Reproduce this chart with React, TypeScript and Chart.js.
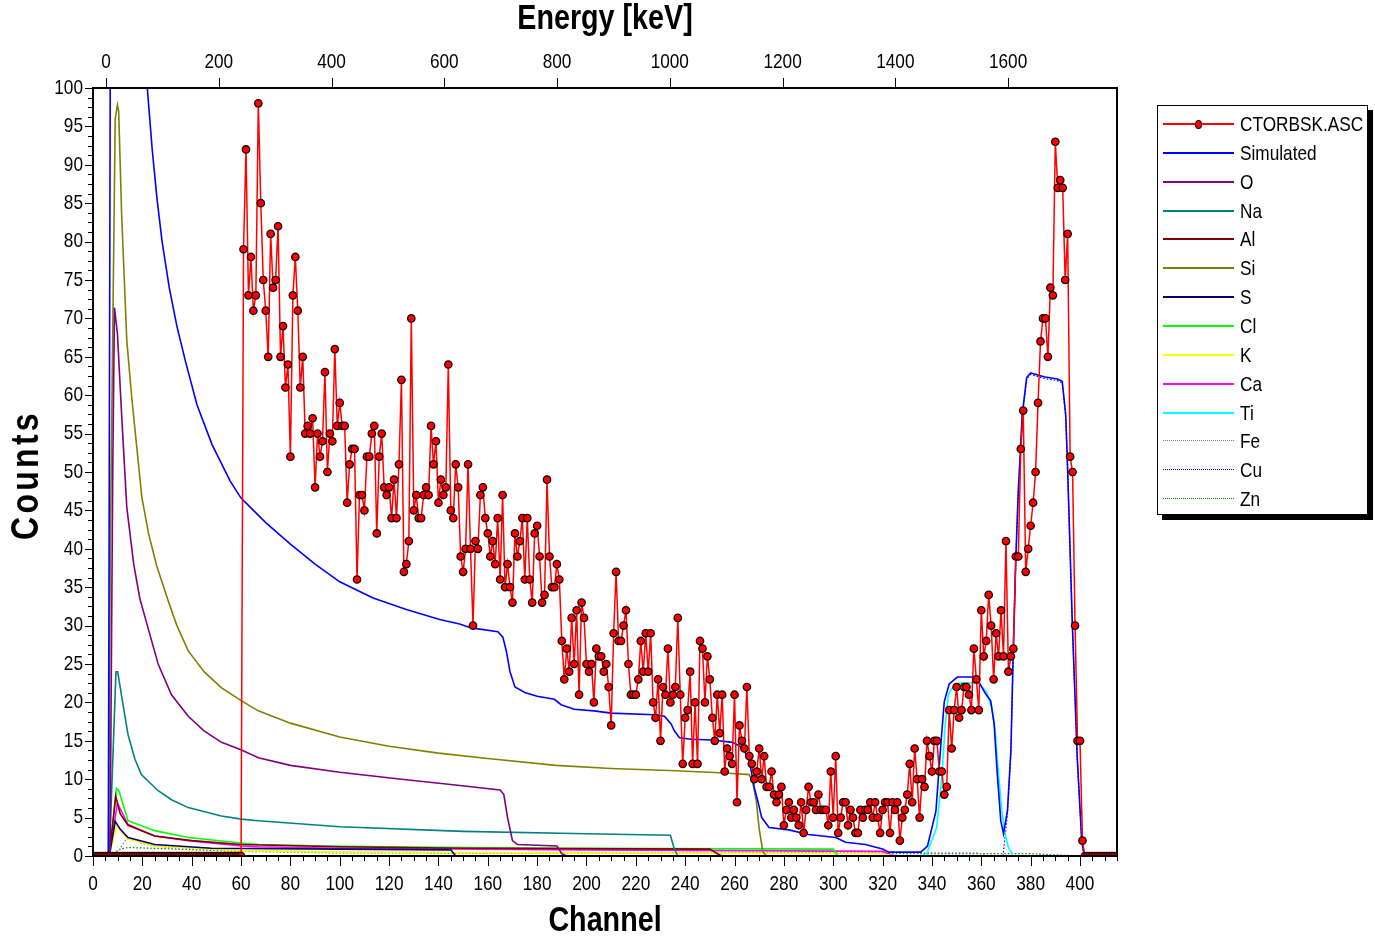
import React, { useEffect, useRef } from "react";
import { Chart, registerables } from "chart.js";

Chart.register(...registerables);

const BASE_FONT = "'Liberation Sans', Arial, sans-serif";
const NARROW_X = 0.82; // horizontal squeeze to imitate a narrow face

// ---------- axis ticks ----------
const channelTicks = [0, 20, 40, 60, 80, 100, 120, 140, 160, 180, 200, 220, 240, 260, 280, 300, 320, 340, 360, 380, 400];
const energyTicks = [0, 200, 400, 600, 800, 1000, 1200, 1400, 1600];
const countTicks = [0, 5, 10, 15, 20, 25, 30, 35, 40, 45, 50, 55, 60, 65, 70, 75, 80, 85, 90, 95, 100];
const channelRange = [0, 415];
const energyRange = [-23.06, 1793.2];
const countRange = [0, 100];

// ---------- measured spectrum CTORBSK.ASC (one value per channel, from channel 0) ----------
const ctorCounts = [
  0, 0, 0, 0, 0, 0, 0, 0, 0, 0,
  0, 0, 0, 0, 0, 0, 0, 0, 0, 0,
  0, 0, 0, 0, 0, 0, 0, 0, 0, 0,
  0, 0, 0, 0, 0, 0, 0, 0, 0, 0,
  0, 0, 0, 0, 0, 0, 0, 0, 0, 0,
  0, 0, 0, 0, 0, 0, 0, 0, 0, 0,
  0, 79, 92, 73, 78, 71, 73, 98, 85, 75,
  71, 65, 81, 74, 75, 82, 65, 69, 61, 64,
  52, 73, 78, 71, 61, 65, 55, 56, 55, 57,
  48, 55, 52, 54, 63, 50, 55, 54, 66, 56,
  59, 56, 56, 46, 51, 53, 53, 36, 47, 47,
  45, 52, 52, 55, 56, 42, 52, 55, 48, 47,
  48, 44, 49, 44, 51, 62, 37, 38, 41, 70,
  45, 47, 44, 44, 47, 48, 47, 56, 51, 54,
  46, 49, 47, 48, 64, 45, 44, 51, 48, 39,
  37, 40, 51, 40, 30, 41, 40, 47, 48, 44,
  42, 39, 41, 38, 44, 36, 47, 35, 38, 35,
  33, 42, 39, 41, 44, 36, 44, 36, 33, 42,
  43, 39, 33, 34, 49, 39, 35, 35, 38, 36,
  28, 23, 27, 24, 31, 25, 32, 21, 33, 31,
  25, 24, 25, 20, 27, 26, 26, 24, 25, 22,
  17, 29, 37, 28, 28, 30, 32, 25, 21, 21,
  21, 23, 28, 24, 29, 24, 29, 20, 18, 23,
  15, 22, 21, 27, 20, 21, 22, 31, 21, 12,
  18, 19, 24, 12, 20, 12, 28, 27, 20, 26,
  23, 18, 15, 21, 16, 21, 11, 14, 13, 12,
  21, 7, 17, 15, 14, 22, 13, 12, 10, 11,
  14, 10, 13, 9, 9, 11, 8, 7, 8, 9,
  4, 6, 7, 5, 6, 5, 4, 7, 3, 6,
  9, 7, 7, 6, 8, 6, 6, 6, 4, 11,
  5, 13, 3, 5, 7, 7, 4, 6, 5, 3,
  3, 6, 5, 6, 6, 7, 5, 7, 5, 3,
  6, 7, 7, 3, 7, 6, 7, 2, 5, 6,
  8, 12, 7, 14, 10, 5, 10, 9, 15, 13,
  11, 15, 15, 11, 11, 8, 9, 19, 14, 19,
  22, 18, 19, 22, 22, 21, 19, 27, 23, 19,
  32, 26, 28, 34, 30, 23, 29, 26, 32, 26,
  41, 24, 26, 27, 39, 39, 53, 58, 37, 40,
  43, 46, 50, 59, 67, 70, 70, 65, 74, 73,
  93, 87, 88, 87, 75, 81, 52, 50, 30, 15,
  15, 2, 0, 0, 0, 0, 0, 0, 0, 0,
  0, 0, 0, 0, 0, 0,
];

// ---------- simulated curves, [channel, counts] ----------
const simulatedPts: [number, number][] = [
  [0, 0], [6.2, 0], [6.6, 50], [7.2, 130], [9, 170], [14, 150], [22, 100], [24, 92], [25.9, 85.7],
  [28, 80], [30.9, 74], [34, 69], [37.4, 64.5], [42.1, 58.8], [48.2, 53.6], [55.6, 48.8], [60, 46.6],
  [63.8, 45.4], [70, 43.4], [80, 40.6], [90, 38], [100, 35.7], [113.5, 33.6], [127, 32.1], [140.5, 30.8],
  [148.6, 30.2], [153.3, 29.7], [164.1, 29.2], [166.1, 28.5], [167.5, 26.7], [169, 24], [171, 22],
  [175, 21.3], [180, 20.8], [187, 20.4], [189.7, 19.7], [195, 19.1], [203, 18.9], [210, 18.6],
  [227.5, 18.4], [231.6, 18.2], [234.3, 17.2], [235.6, 16.3], [237.7, 15.4], [242.5, 15.2], [251, 15.1],
  [259.2, 14.8], [263.3, 14.1], [266, 12.4], [268, 8.9], [269.4, 7.2], [271, 5], [274, 3.7], [282, 3.4],
  [290, 2.8], [301, 2.4], [305, 1.8], [313, 1.5], [320, 0.9], [322.5, 0.5], [335.5, 0.5], [338.2, 1.3],
  [341.6, 5.8], [343.6, 14.5], [345, 20.1], [347, 22.4], [350.3, 23.3], [356.4, 23.3], [359.1, 22.6],
  [361.8, 21.1], [363.8, 20.2], [365.2, 17.2], [366.5, 10.6], [367.9, 4.6], [369, 2.9], [370.6, 5.9],
  [372, 13.7], [372.9, 25.9], [374, 38.9], [375, 47.6], [376.6, 57.5], [378.4, 62.3], [380, 62.9],
  [385.4, 62.4], [390.8, 62.1], [392.8, 61.8], [394.2, 57.5], [394.8, 52.3], [395.5, 45], [396.9, 30.2],
  [398.9, 12.8], [400.7, 2], [401.6, 0.3], [403, 0], [415, 0],
];
const oxygenPts: [number, number][] = [
  [0, 0], [6.9, 0], [8, 50], [8.7, 71.4], [9.9, 68], [11.6, 57.5], [13.7, 45.4], [16.5, 38], [19, 33.5],
  [22.3, 29.7], [26.4, 25], [31.8, 21], [38.6, 18.2], [45, 16.3], [52.1, 14.8], [60.2, 13.8], [67, 12.8],
  [80, 11.8], [100, 10.9], [125, 10], [145, 9.3], [165, 8.6], [166.5, 8], [168, 5], [170, 2], [172, 1.5],
  [188, 1.3], [190, 0.3], [192, 0], [415, 0],
];
const sodiumPts: [number, number][] = [
  [0, 0], [6.6, 0], [8.3, 15], [9.3, 24], [10, 24], [11.5, 21], [14.2, 15.8], [17, 12.6], [19.6, 10.6],
  [26.4, 8.5], [32, 7.3], [38.6, 6.3], [52, 5.2], [60.2, 4.8], [67, 4.6], [100, 3.8], [150, 3.2],
  [200, 2.9], [234, 2.7], [235.5, 1], [237, 0], [415, 0],
];
const aluminiumPts: [number, number][] = [
  [0, 0], [6.6, 0], [9.2, 7.8], [11, 5.5], [14.2, 4], [25, 2.6], [40, 2], [60, 1.5], [100, 1.2],
  [150, 1], [250, 0.9], [253, 0.3], [255, 0], [415, 0],
];
const siliconPts: [number, number][] = [
  [0, 0], [6.3, 0], [7, 40], [9, 96], [9.9, 97.8], [10.4, 97], [11.6, 83.6], [13.7, 67.1], [15.7, 59.7],
  [19.8, 46.7], [22.5, 42], [25.8, 37.8], [30.5, 33.2], [34, 30], [38.6, 26.7], [45, 24], [52.1, 21.9],
  [60.2, 20.2], [67, 18.9], [80, 17.3], [100, 15.5], [120, 14.3], [140, 13.4], [160, 12.7], [187.6, 11.8],
  [210, 11.4], [236, 11.1], [256, 10.8], [266, 10.6], [267.5, 9.4], [268.8, 7.2], [270, 3.5],
  [271.5, 0.5], [273, 0], [415, 0],
];
const sulfurPts: [number, number][] = [
  [0, 0], [6.6, 0], [9, 4.5], [11, 3.5], [14.2, 2.4], [25, 1.5], [48, 1], [100, 0.9], [145, 0.8],
  [147, 0], [415, 0],
];
const chlorinePts: [number, number][] = [
  [0, 0], [6.6, 0], [9.5, 8.8], [10.5, 8.5], [14.2, 4.6], [25, 3.3], [38.6, 2.4], [60, 1.7], [67, 1.5],
  [100, 1.25], [150, 1.1], [200, 1], [300, 0.9], [302, 0], [415, 0],
];
const potassiumPts: [number, number][] = [
  [0, 0], [6.6, 0], [9.5, 3.9], [14.2, 2.2], [25, 1.3], [60, 0.7], [100, 0.5], [200, 0.4], [320, 0.3],
  [325, 0], [415, 0],
];
const calciumPts: [number, number][] = [
  [0, 0], [6.6, 0], [9.9, 6.9], [14.2, 4.1], [25, 2.6], [38.6, 2], [60, 1.3], [67, 1.2], [100, 1],
  [200, 0.8], [320, 0.6], [324, 0.1], [326, 0], [415, 0],
];
const titaniumPts: [number, number][] = [
  [0, 0], [336, 0], [337.9, 0.3], [341.9, 3.7], [344, 10.2], [345.3, 16.7], [346.7, 21.1], [349.4, 22.4],
  [352.8, 22.6], [359.1, 22.5], [362.2, 21.3], [364.3, 19.3], [365.6, 16.3], [367, 10.6], [368.3, 5.9],
  [369.7, 2.8], [371, 1.1], [373, 0], [415, 0],
];
const ironPts: [number, number][] = [
  [0, 0], [6.6, 0], [10, 0.5], [13, 2], [15, 2.3], [20, 1.6], [30, 1.1], [60, 0.7], [100, 0.5],
  [200, 0.4], [359, 0.4], [362, 0], [415, 0],
];
const copperPts: [number, number][] = [
  [0, 0], [368.8, 0], [370.6, 5.5], [372, 13.5], [372.9, 25.7], [374, 38.7], [375, 47.4], [376.6, 57.3],
  [378.4, 62.1], [380, 62.7], [385.4, 62.2], [390.8, 61.9], [392.8, 61.6], [394.2, 57.3], [394.8, 52.1],
  [395.5, 44.8], [396.9, 30], [398.9, 12.6], [400.7, 1.8], [401.6, 0.2], [403, 0], [415, 0],
];
const zincPts: [number, number][] = [
  [0, 0], [6.6, 0], [11, 0.9], [14, 1.1], [25, 1], [60, 0.6], [100, 0.4], [380, 0.3], [400, 0], [415, 0],
];

const curveSeries = [
  { label: "Simulated", pts: simulatedPts, color: "#0000ff", dotted: false },
  { label: "O", pts: oxygenPts, color: "#800080", dotted: false },
  { label: "Na", pts: sodiumPts, color: "#008080", dotted: false },
  { label: "Al", pts: aluminiumPts, color: "#800000", dotted: false },
  { label: "Si", pts: siliconPts, color: "#808000", dotted: false },
  { label: "S", pts: sulfurPts, color: "#000080", dotted: false },
  { label: "Cl", pts: chlorinePts, color: "#00ff00", dotted: false },
  { label: "K", pts: potassiumPts, color: "#ffff00", dotted: false },
  { label: "Ca", pts: calciumPts, color: "#ff00ff", dotted: false },
  { label: "Ti", pts: titaniumPts, color: "#00ffff", dotted: false },
  { label: "Fe", pts: ironPts, color: "#808080", dotted: true },
  { label: "Cu", pts: copperPts, color: "#0000ff", dotted: true },
  { label: "Zn", pts: zincPts, color: "#008000", dotted: true },
];
const measuredLabel = "CTORBSK.ASC";
const xTitle = "Channel";
const x2Title = "Energy [keV]";
const yTitle = "Counts";

function narrowText(ctx: CanvasRenderingContext2D, text: string, x: number, y: number, font: string, align: CanvasTextAlign) {
  ctx.save();
  ctx.translate(x, y);
  ctx.scale(NARROW_X, 1);
  ctx.font = font;
  ctx.fillStyle = "#000";
  ctx.textAlign = align;
  ctx.textBaseline = "middle";
  ctx.fillText(text, 0, 0);
  ctx.restore();
}

const framePlugin = {
  id: "frameAndTicks",
  afterDraw(chart: any) {
    const { ctx, chartArea: a, scales } = chart;
    const xs = scales.x;
    const ys = scales.y;
    const xe = scales.x2;
    ctx.save();
    ctx.strokeStyle = "#000";
    ctx.lineWidth = 1;
    ctx.beginPath();
    for (let v = 0; v <= 100.001; v += 1.25) {
      const y = Math.round(ys.getPixelForValue(v)) + 0.5;
      const major = Math.abs(v / 5 - Math.round(v / 5)) < 1e-6;
      const len = major ? 8 : 5;
      ctx.moveTo(a.left - len, y);
      ctx.lineTo(a.left, y);
    }
    for (let c = 0; c <= 415; c += 5) {
      const x = Math.round(xs.getPixelForValue(c)) + 0.5;
      const len = c % 20 === 0 ? 10 : 5;
      ctx.moveTo(x, a.bottom);
      ctx.lineTo(x, a.bottom + len);
    }
    for (const e of energyTicks) {
      const x = Math.round(xe.getPixelForValue(e)) + 0.5;
      ctx.moveTo(x, a.top);
      ctx.lineTo(x, a.top - 10);
    }
    ctx.stroke();
    ctx.lineWidth = 2;
    ctx.strokeRect(a.left, a.top, a.right - a.left, a.bottom - a.top);
    ctx.restore();

    const tickFont = `21px ${BASE_FONT}`;
    const titleFont = `bold 35px ${BASE_FONT}`;
    for (const v of countTicks) narrowText(ctx, String(v), a.left - 10, ys.getPixelForValue(v), tickFont, "right");
    for (const c of channelTicks) narrowText(ctx, String(c), xs.getPixelForValue(c), a.bottom + 28, tickFont, "center");
    for (const e of energyTicks) narrowText(ctx, String(e), xe.getPixelForValue(e), a.top - 26, tickFont, "center");
    const cx = (a.left + a.right) / 2;
    narrowText(ctx, xTitle, cx, 921, titleFont, "center");
    narrowText(ctx, x2Title, cx, 19, titleFont, "center");

    ctx.save();
    ctx.translate(27, 475);
    ctx.rotate(-Math.PI / 2);
    ctx.scale(NARROW_X, 1);
    ctx.fillStyle = "#000";
    ctx.font = `bold 39px ${BASE_FONT}`;
    (ctx as any).letterSpacing = "4px";
    ctx.textAlign = "center";
    ctx.textBaseline = "middle";
    ctx.fillText(yTitle, 0, 0);
    ctx.restore();
  },
};

function ChartCanvas() {
  const ref = useRef<HTMLCanvasElement | null>(null);
  useEffect(() => {
    if (!ref.current) return;
    const datasets: any[] = [
      {
        label: measuredLabel,
        data: ctorCounts.map((v, i) => ({ x: i, y: v })),
        borderColor: "#ff0000",
        borderWidth: 1.5,
        pointRadius: 3.7,
        pointBackgroundColor: "#ff0000",
        pointBorderColor: "#1a0000",
        pointBorderWidth: 1.3,
        tension: 0,
      },
      ...curveSeries.map((s) => ({
        label: s.label,
        data: s.pts.map(([x, y]) => ({ x, y })),
        borderColor: s.color,
        borderWidth: s.dotted ? 1.2 : 1.6,
        borderDash: s.dotted ? [1.5, 2] : [],
        pointRadius: 0,
        tension: 0,
      })),
    ];
    const hiddenAxis = {
      grid: { display: false },
      border: { display: false },
      ticks: { display: false },
      title: { display: false },
    };
    const chart = new Chart(ref.current, {
      type: "line",
      data: { datasets },
      plugins: [framePlugin],
      options: {
        animation: false,
        responsive: false,
        layout: { padding: { left: 0, top: 0, right: 258, bottom: 0 } },
        plugins: { legend: { display: false }, tooltip: { enabled: false } },
        events: [],
        scales: {
          x: {
            ...hiddenAxis,
            type: "linear",
            position: "bottom",
            min: channelRange[0],
            max: channelRange[1],
            afterFit: (s: any) => { s.height = 85; },
          },
          x2: {
            ...hiddenAxis,
            type: "linear",
            position: "top",
            min: energyRange[0],
            max: energyRange[1],
            afterFit: (s: any) => { s.height = 88; },
          },
          y: {
            ...hiddenAxis,
            type: "linear",
            position: "left",
            min: countRange[0],
            max: countRange[1],
            afterFit: (s: any) => { s.width = 93; },
          },
        },
      } as any,
    });
    return () => chart.destroy();
  }, []);
  return <canvas ref={ref} width={1375} height={941} style={{ display: "block" }} />;
}

function Legend() {
  const items = [
    { label: measuredLabel, color: "#ff0000", dotted: false, marker: true },
    ...curveSeries.map((s) => ({ label: s.label, color: s.color, dotted: s.dotted, marker: false })),
  ];
  return (
    <div
      style={{
        position: "absolute",
        left: 1157,
        top: 105,
        width: 211,
        height: 410,
        boxSizing: "border-box",
        border: "1px solid #000",
        boxShadow: "5px 5px 0 #000",
        background: "#fff",
      }}
    >
      {items.map((it, i) => (
        <div key={it.label} style={{ position: "absolute", left: 0, top: 18 + i * 28.85, width: "100%", height: 0 }}>
          <div
            style={{
              position: "absolute",
              left: 5,
              width: 71,
              top: -1,
              height: 0,
              borderTop: it.dotted ? `1px dotted ${it.color}` : `2px solid ${it.color}`,
            }}
          />
          {it.marker && (
            <div
              style={{
                position: "absolute",
                left: 37,
                top: -4.5,
                width: 7,
                height: 9,
                borderRadius: "50%",
                background: "#ff0000",
                border: "1px solid #1a0000",
                boxSizing: "border-box",
              }}
            />
          )}
          <div
            style={{
              position: "absolute",
              left: 82,
              top: -13,
              height: 26,
              lineHeight: "26px",
              fontFamily: BASE_FONT,
              fontSize: 21,
              color: "#000",
              whiteSpace: "nowrap",
              transform: `scaleX(${NARROW_X})`,
              transformOrigin: "left center",
            }}
          >
            {it.label}
          </div>
        </div>
      ))}
    </div>
  );
}

export default function App() {
  return (
    <div style={{ position: "fixed", left: 0, top: 0, width: 1375, height: 941, background: "#fff", overflow: "hidden" }}>
      <ChartCanvas />
      <Legend />
    </div>
  );
}
